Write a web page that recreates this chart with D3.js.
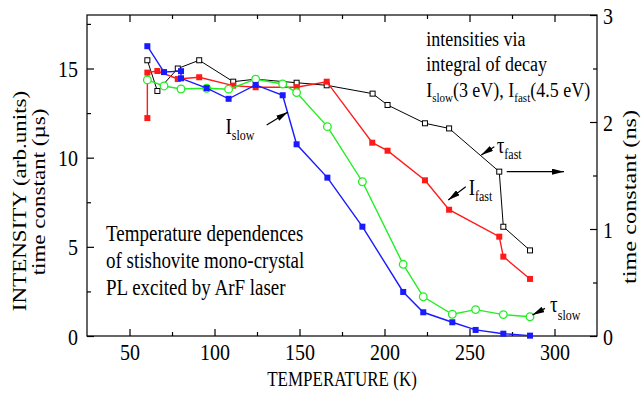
<!DOCTYPE html>
<html>
<head>
<meta charset="utf-8">
<script src="https://cdn.jsdelivr.net/npm/d3@7"></script>
<style>
  body { margin: 0; background: #fff; }
  svg { display: block; font-family: "Liberation Serif", "Times New Roman", serif; }
</style>
</head>
<body>
<div id="chart"></div>
<script>
// temperatures (K) and values
const tSlow = [60.5, 70.3, 80.3, 80.3, 95.4, 108.3, 124.2, 140.1, 148.3, 166.4, 187, 211, 222.8, 239.9, 253.6, 269.9, 285.6];
const iSlow = [16.25, 14.8, 14.85, 14.45, 13.9, 13.3, 14.08, 13.5, 10.75, 8.88, 6.13, 2.47, 1.33, 0.77, 0.34, 0.13, 0.02];

const tFast = [60.5, 60.5, 66.4, 78.4, 91, 111, 124.2, 148.3, 166, 192.8, 201.8, 223.8, 238, 267.5, 269.9, 285.6];
const iFast = [12.22, 14.77, 14.86, 14.41, 14.51, 14.04, 13.95, 13.95, 14.26, 10.84, 10.39, 8.73, 7.08, 5.57, 4.45, 3.2];

const tTauSlow = [60.5, 70.3, 80.3, 95.4, 108.3, 124.2, 140.1, 148.3, 166.4, 187, 211, 222.8, 239.9, 253.6, 269.9, 285.6];
const tauSlow = [14.36, 14.02, 13.85, 13.89, 13.84, 14.4, 14.13, 13.65, 11.74, 8.65, 4.02, 2.2, 1.22, 1.48, 1.2, 1.08];

const tTauFast = [60.5, 66.4, 78.4, 91, 111, 124.2, 148.3, 166, 193, 201.8, 223.8, 238, 267.5, 269.9, 285.6];
const tauFast = [2.577, 2.29, 2.50, 2.577, 2.377, 2.40, 2.367, 2.343, 2.265, 2.159, 1.988, 1.94, 1.536, 1.021, 0.80];

const xTicks = [50, 100, 150, 200, 250, 300];
const xMinor = [75, 125, 175, 225, 275];
const yTicks = [0, 5, 10, 15];
const yMinor = [2.5, 7.5, 12.5, 17.5];
const y2Ticks = [0, 1, 2, 3];
const y2Minor = [0.5, 1.5, 2.5];

const width = 644, height = 394;
const margin = { top: 15, right: 47, bottom: 58, left: 87 };
const iw = width - margin.left - margin.right;
const ih = height - margin.top - margin.bottom;

// the picture is stretched vertically, text included
const kv = 1.2;

const svg = d3.select('#chart').append('svg')
  .attr('width', width)
  .attr('height', height);

const g = svg.append('g')
  .attr('transform', `translate(${margin.left},${margin.top})`);

const x = d3.scaleLinear().domain([25, 325]).range([0, iw]);
const y = d3.scaleLinear().domain([0, 18]).range([ih, 0]);
const y2 = d3.scaleLinear().domain([0, 3]).range([ih, 0]);

const fs = 20;
const serif = '"Liberation Serif", "Times New Roman", serif';

function stretched(parent, px, py, size) {
  return parent.append('g')
    .attr('transform', `translate(${px},${py}) scale(1,${kv})`)
    .append('text')
    .attr('font-size', size);
}

// frame
g.append('rect')
  .attr('width', iw).attr('height', ih)
  .attr('fill', 'none').attr('stroke', '#000').attr('stroke-width', 1.2);

function styleAxis(sel) {
  sel.attr('font-family', serif).attr('font-size', fs);
  sel.select('.domain').remove();
  sel.selectAll('line').attr('stroke', '#000').attr('stroke-width', 1.2);
  sel.selectAll('text').attr('fill', '#000');
}

function placeLabels(dx, dy) {
  return sel => sel.selectAll('text')
    .attr('x', 0).attr('y', 0).attr('dy', null)
    .attr('transform', `translate(${dx},${dy}) scale(1,${kv})`);
}

// bottom
g.append('g').attr('transform', `translate(0,${ih})`)
  .call(d3.axisBottom(x).tickValues(xTicks).tickSize(-7))
  .call(styleAxis)
  .call(placeLabels(0, 24));
g.append('g').attr('transform', `translate(0,${ih})`)
  .call(d3.axisBottom(x).tickValues(xMinor).tickSize(-4).tickFormat(''))
  .call(styleAxis);
// top
g.append('g')
  .call(d3.axisTop(x).tickValues(xTicks).tickSize(-7).tickFormat(''))
  .call(styleAxis);
g.append('g')
  .call(d3.axisTop(x).tickValues(xMinor).tickSize(-4).tickFormat(''))
  .call(styleAxis);
// left
g.append('g')
  .call(d3.axisLeft(y).tickValues(yTicks).tickSize(-7))
  .call(styleAxis)
  .call(placeLabels(-9, 8));
g.append('g')
  .call(d3.axisLeft(y).tickValues(yMinor).tickSize(-4).tickFormat(''))
  .call(styleAxis);
// right
g.append('g').attr('transform', `translate(${iw},0)`)
  .call(d3.axisRight(y2).tickValues(y2Ticks).tickSize(-7).tickFormat(d3.format('d')))
  .call(styleAxis)
  .call(placeLabels(6, 8));
g.append('g').attr('transform', `translate(${iw},0)`)
  .call(d3.axisRight(y2).tickValues(y2Minor).tickSize(-4).tickFormat(''))
  .call(styleAxis);

// axis titles
stretched(svg, margin.left + iw / 2, 386, 17)
  .attr('text-anchor', 'middle')
  .text('TEMPERATURE (K)');

const kr = 1.28;
svg.append('text')
  .attr('transform', `translate(26,201) rotate(-90) scale(${kr},1)`)
  .attr('text-anchor', 'middle').attr('font-size', 18)
  .text('INTENSITY (arb.units)');
svg.append('text')
  .attr('transform', `translate(45,192) rotate(-90) scale(${kr},1)`)
  .attr('text-anchor', 'middle').attr('font-size', 18)
  .text('time constant (\u00b5s)');
svg.append('text')
  .attr('transform', `translate(636,197) rotate(-90) scale(${kr},1)`)
  .attr('text-anchor', 'middle').attr('font-size', 19)
  .text('time constant (ns)');

// series
function series(xs, ys, yScale, color, sw) {
  const pts = xs.map((t, i) => [t, ys[i]]);
  g.append('path')
    .datum(pts)
    .attr('fill', 'none')
    .attr('stroke', color)
    .attr('stroke-width', sw)
    .attr('d', d3.line().x(d => x(d[0])).y(d => yScale(d[1])));
  return pts;
}

const blackPts = series(tTauFast, tauFast, y2, '#000', 1);
g.selectAll('.sqo').data(blackPts).enter().append('rect')
  .attr('x', d => x(d[0]) - 2.5).attr('y', d => y2(d[1]) - 2.5)
  .attr('width', 5).attr('height', 5)
  .attr('fill', '#fff').attr('stroke', '#000').attr('stroke-width', 1);

const redPts = series(tFast, iFast, y, '#ff1a1a', 1.4);
g.selectAll('.sqr').data(redPts).enter().append('rect')
  .attr('x', d => x(d[0]) - 3).attr('y', d => y(d[1]) - 3)
  .attr('width', 6).attr('height', 6)
  .attr('fill', '#ff1a1a');

const greenPts = series(tTauSlow, tauSlow, y, '#22ee22', 1.4);
g.selectAll('.cg').data(greenPts).enter().append('circle')
  .attr('cx', d => x(d[0])).attr('cy', d => y(d[1])).attr('r', 3.8)
  .attr('fill', '#fff').attr('stroke', '#22ee22').attr('stroke-width', 1.3);

const bluePts = series(tSlow, iSlow, y, '#1a1aff', 1.4);
g.selectAll('.sqb').data(bluePts).enter().append('rect')
  .attr('x', d => x(d[0]) - 3).attr('y', d => y(d[1]) - 3)
  .attr('width', 6).attr('height', 6)
  .attr('fill', '#1a1aff');

// annotations (data coordinates)
const arrows = [
  { from: [130.7, 11.83], to: [143.2, 12.56], s: y },   // I slow
  { from: [264.6, 1.769], to: [256.9, 1.692], s: y2 },  // tau fast
  { from: [271.9, 1.536], to: [305.6, 1.536], s: y2 },  // right arrow
  { from: [247.8, 8.37], to: [237.5, 7.63], s: y },     // I fast
  { from: [294.4, 1.55], to: [287, 1.18], s: y }        // tau slow
];

const defs = svg.append('defs');
defs.append('marker')
  .attr('id', 'ah')
  .attr('viewBox', '0 0 12 6')
  .attr('refX', 12).attr('refY', 3)
  .attr('markerWidth', 12).attr('markerHeight', 6)
  .attr('markerUnits', 'userSpaceOnUse')
  .attr('orient', 'auto')
  .append('path').attr('d', 'M0,0 L12,3 L0,6 Z').attr('fill', '#000');

g.selectAll('.arr').data(arrows).enter().append('line')
  .attr('x1', d => x(d.from[0])).attr('y1', d => d.s(d.from[1]))
  .attr('x2', d => x(d.to[0])).attr('y2', d => d.s(d.to[1]))
  .attr('stroke', '#000').attr('stroke-width', 1.2)
  .attr('marker-end', 'url(#ah)');

const labels = [
  { main: 'I', sub: 'slow', t: 106.5, v: 11.3, s: y, dy: 5 },
  { main: '\u03c4', sub: 'fast', t: 266, v: 1.71, s: y2, dy: 5 },
  { main: 'I', sub: 'fast', t: 249.5, v: 7.91, s: y, dy: 5 },
  { main: '\u03c4', sub: 'slow', t: 297.4, v: 1.36, s: y, dy: 6.5 }
];
labels.forEach(d => {
  const t = stretched(g, x(d.t), d.s(d.v), 19);
  t.append('tspan').text(d.main);
  t.append('tspan').attr('font-size', 12).attr('dy', d.dy).text(d.sub);
});

// text blocks
stretched(g, x(224.5), 31, 18).text('intensities via');
stretched(g, x(224.5), 56, 18).text('integral of decay');
const l3 = stretched(g, x(224.5), 82, 18);
l3.append('tspan').text('I');
l3.append('tspan').attr('font-size', 11).attr('dy', 4).text('slow');
l3.append('tspan').attr('dy', -4).text('(3 eV), I');
l3.append('tspan').attr('font-size', 11).attr('dy', 4).text('fast');
l3.append('tspan').attr('dy', -4).text('(4.5 eV)');

['Temperature dependences', 'of stishovite mono-crystal', 'PL excited by ArF laser']
  .forEach((s, i) => {
    stretched(g, 19, 226 + i * 27, 19).text(s);
  });
</script>
</body>
</html>
